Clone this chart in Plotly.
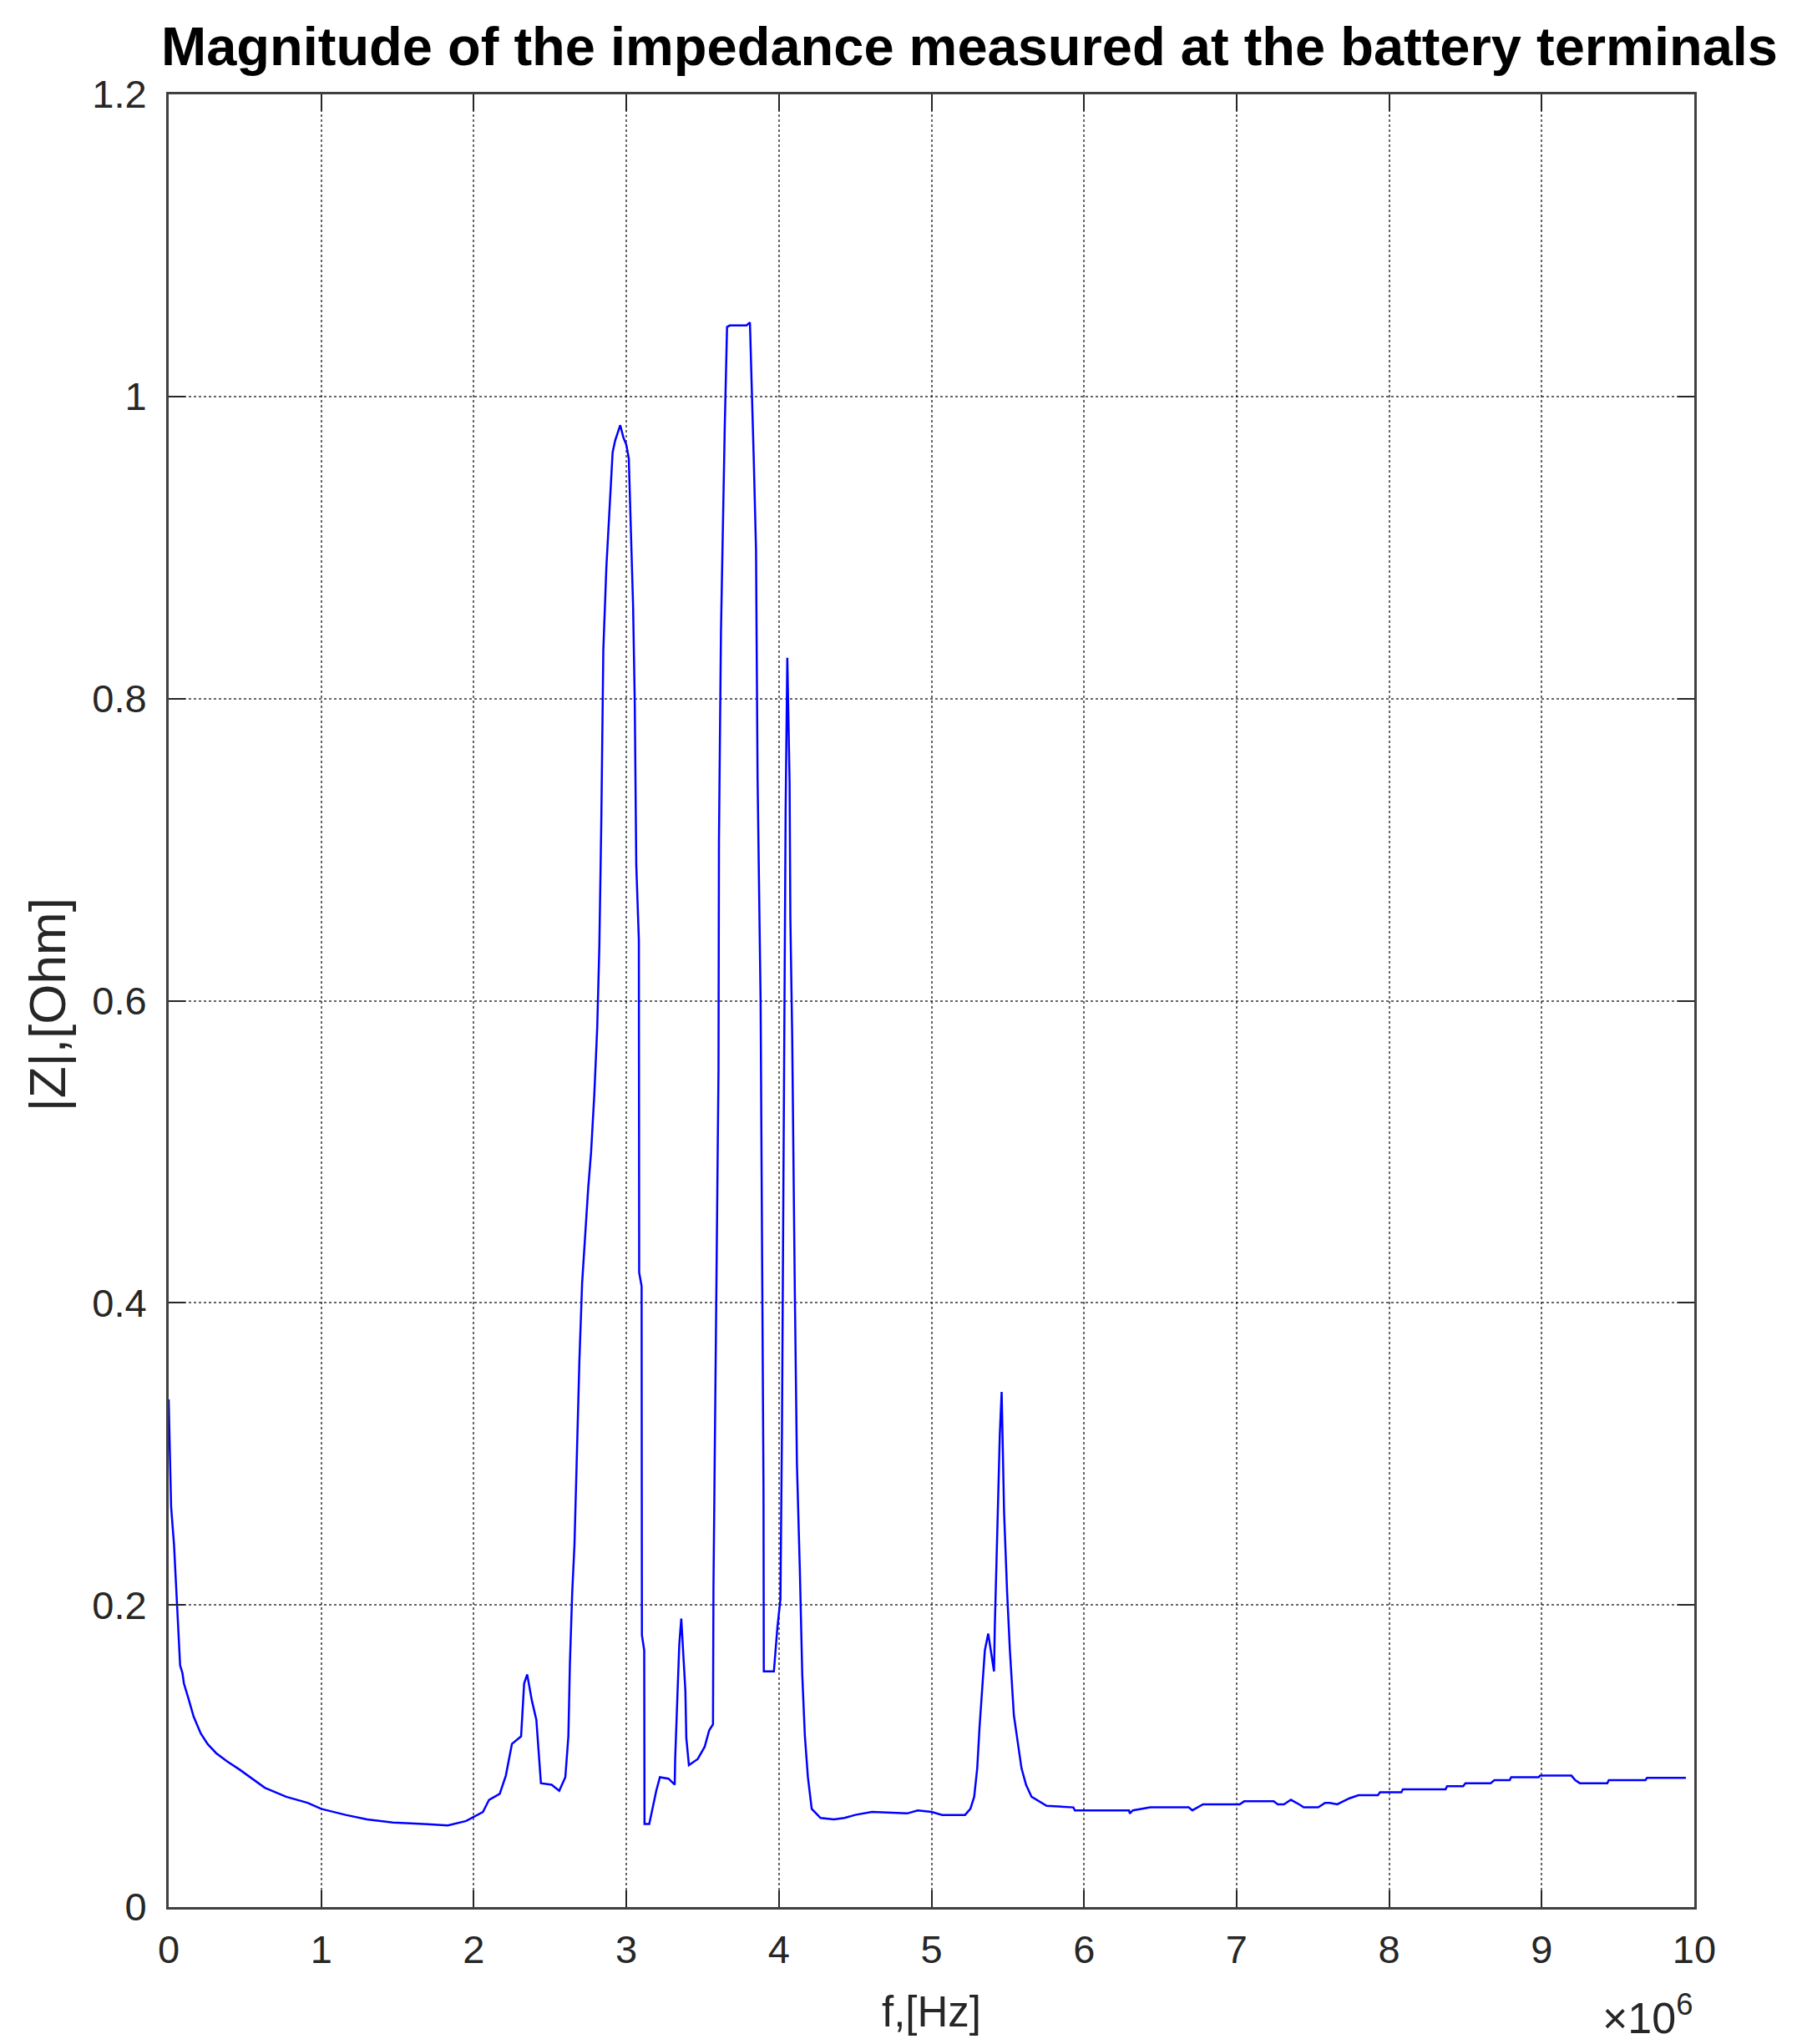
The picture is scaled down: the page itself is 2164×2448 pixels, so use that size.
import plotly.graph_objects as go

# Frequency in units of 1e6 Hz (axis shows x10^6 multiplier)
freq_MHz = [
    0.000, 0.010, 0.016, 0.035, 0.045, 0.060, 0.075, 0.090, 0.100, 0.127,
    0.164, 0.210, 0.255, 0.310, 0.383, 0.465, 0.520, 0.630, 0.770, 0.910,
    1.000, 1.160, 1.300, 1.470, 1.670, 1.830, 1.950, 2.060, 2.100, 2.170,
    2.210, 2.250, 2.310, 2.330, 2.350, 2.380, 2.410, 2.440, 2.510, 2.560,
    2.600, 2.620, 2.630, 2.645, 2.660, 2.674, 2.692, 2.710, 2.732, 2.750,
    2.769, 2.790, 2.809, 2.823, 2.836, 2.849, 2.869, 2.885, 2.900, 2.910,
    2.927, 2.946, 2.960, 2.980, 3.000, 3.016, 3.025, 3.044, 3.055, 3.065,
    3.082, 3.084, 3.100, 3.102, 3.117, 3.119, 3.150, 3.170, 3.196, 3.220,
    3.276, 3.317, 3.320, 3.333, 3.347, 3.360, 3.370, 3.387, 3.393, 3.410,
    3.468, 3.513, 3.543, 3.568, 3.571, 3.589, 3.604, 3.607, 3.620, 3.645,
    3.660, 3.678, 3.787, 3.810, 3.817, 3.835, 3.850, 3.860, 3.880, 3.885,
    3.899, 3.901, 3.967, 3.990, 4.010, 4.020, 4.033, 4.044, 4.055, 4.070,
    4.075, 4.087, 4.104, 4.118, 4.137, 4.153, 4.170, 4.190, 4.215, 4.273,
    4.360, 4.430, 4.500, 4.610, 4.840, 4.910, 5.000, 5.070, 5.220, 5.255,
    5.280, 5.300, 5.315, 5.334, 5.350, 5.372, 5.388, 5.410, 5.415, 5.430,
    5.448, 5.460, 5.476, 5.496, 5.514, 5.540, 5.563, 5.590, 5.620, 5.656,
    5.755, 5.930, 5.940, 6.295, 6.300, 6.320, 6.435, 6.686, 6.710, 6.780,
    7.020, 7.050, 7.243, 7.270, 7.310, 7.356, 7.410, 7.440, 7.535, 7.580,
    7.610, 7.660, 7.740, 7.800, 7.926, 7.940, 8.080, 8.090, 8.370, 8.380,
    8.485, 8.500, 8.665, 8.690, 8.790, 8.800, 8.980, 8.990, 9.195, 9.220,
    9.250, 9.430, 9.440, 9.680, 9.690, 9.945,
]

impedance_ohm = [
    0.336, 0.300, 0.265, 0.240, 0.218, 0.190, 0.160, 0.155, 0.148, 0.139,
    0.126, 0.115, 0.108, 0.102, 0.0965, 0.091, 0.087, 0.079, 0.073, 0.069,
    0.065, 0.061, 0.058, 0.056, 0.055, 0.054, 0.057, 0.063, 0.071, 0.075,
    0.087, 0.108, 0.113, 0.148, 0.154, 0.137, 0.124, 0.082, 0.081, 0.077,
    0.086, 0.113, 0.161, 0.208, 0.240, 0.300, 0.361, 0.413, 0.451, 0.476,
    0.500, 0.538, 0.582, 0.636, 0.720, 0.832, 0.887, 0.916, 0.943, 0.963,
    0.971, 0.977, 0.981, 0.973, 0.968, 0.959, 0.925, 0.862, 0.798, 0.690,
    0.640, 0.420, 0.411, 0.180, 0.170, 0.055, 0.055, 0.065, 0.077, 0.086,
    0.085, 0.081, 0.098, 0.135, 0.174, 0.191, 0.174, 0.143, 0.112, 0.094,
    0.098, 0.106, 0.117, 0.121, 0.211, 0.383, 0.554, 0.706, 0.843, 0.980,
    1.046, 1.047, 1.047, 1.049, 1.019, 0.959, 0.898, 0.749, 0.599, 0.511,
    0.275, 0.156, 0.156, 0.185, 0.204, 0.315, 0.521, 0.726, 0.827, 0.745,
    0.655, 0.577, 0.410, 0.294, 0.224, 0.154, 0.1135, 0.086, 0.065, 0.059,
    0.058, 0.059, 0.061, 0.063, 0.062, 0.064, 0.063, 0.061, 0.061, 0.065,
    0.073, 0.092, 0.119, 0.146, 0.170, 0.181, 0.170, 0.156, 0.185, 0.247,
    0.313, 0.341, 0.261, 0.208, 0.170, 0.127, 0.1095, 0.092, 0.081, 0.073,
    0.067, 0.066, 0.064, 0.064, 0.062, 0.064, 0.066, 0.066, 0.064, 0.068,
    0.068, 0.070, 0.070, 0.068, 0.068, 0.071, 0.068, 0.066, 0.066, 0.069,
    0.069, 0.068, 0.072, 0.074, 0.074, 0.076, 0.076, 0.078, 0.078, 0.080,
    0.080, 0.082, 0.082, 0.084, 0.084, 0.086, 0.086, 0.087, 0.087, 0.084,
    0.082, 0.082, 0.084, 0.084, 0.0855, 0.0855,
]

x_ticks = [0, 1, 2, 3, 4, 5, 6, 7, 8, 9, 10]
x_tick_labels = ["0", "1", "2", "3", "4", "5", "6", "7", "8", "9", "10"]
y_ticks = [0, 0.2, 0.4, 0.6, 0.8, 1.0, 1.2]
y_tick_labels = ["0", "0.2", "0.4", "0.6", "0.8", "1", "1.2"]

title_text = "Magnitude of the impedance measured at the battery terminals"
x_title = "f,[Hz]"
y_title = "|Z|,[Ohm]"
x_multiplier = "×10<sup>6</sup>"

FONT = "Liberation Sans, Arial, sans-serif"
TICK_COLOR = "#262626"

fig = go.Figure()
fig.add_trace(go.Scatter(
    x=freq_MHz, y=impedance_ohm, mode="lines",
    line=dict(color="#0000ff", width=2.5),
    showlegend=False,
))

axis_common = dict(
    showline=True, linecolor="#404040", linewidth=3, mirror="ticks",
    ticks="inside", ticklen=20, tickwidth=2, tickcolor=TICK_COLOR,
    showgrid=True, gridcolor="rgba(0,0,0,0.6)", gridwidth=1.5, griddash="dot",
    zeroline=False,
    tickfont=dict(family=FONT, size=47, color=TICK_COLOR),
)

fig.update_xaxes(
    range=[0, 10], tickmode="array", tickvals=x_ticks, ticktext=x_tick_labels,
    ticklabelstandoff=8, **axis_common,
)
fig.update_yaxes(
    range=[0, 1.2], tickmode="array", tickvals=y_ticks, ticktext=y_tick_labels,
    ticklabelstandoff=14, **axis_common,
)

fig.add_annotation(
    text=title_text, xref="paper", yref="paper", x=0.525, y=1.0263,
    xanchor="center", yanchor="middle", showarrow=False,
    font=dict(family=FONT, size=65, color="#000000", weight="bold"),
)
fig.add_annotation(
    text=x_title, xref="paper", yref="paper", x=0.5, y=-0.058,
    xanchor="center", yanchor="middle", showarrow=False,
    font=dict(family=FONT, size=51, color=TICK_COLOR),
)
fig.add_annotation(
    text=y_title, xref="paper", yref="paper", x=-0.0795, y=0.4977,
    xanchor="center", yanchor="middle", showarrow=False, textangle=-90,
    font=dict(family=FONT, size=62, color=TICK_COLOR),
)
fig.add_annotation(
    text=x_multiplier, xref="paper", yref="paper", x=1.0, y=-0.0595,
    xanchor="right", yanchor="middle", showarrow=False,
    font=dict(family=FONT, size=52, color=TICK_COLOR),
)

fig.update_layout(
    width=2164, height=2448,
    margin=dict(l=194, r=143, t=105, b=172),
    plot_bgcolor="white", paper_bgcolor="white",
)

fig.write_html("out.html")
